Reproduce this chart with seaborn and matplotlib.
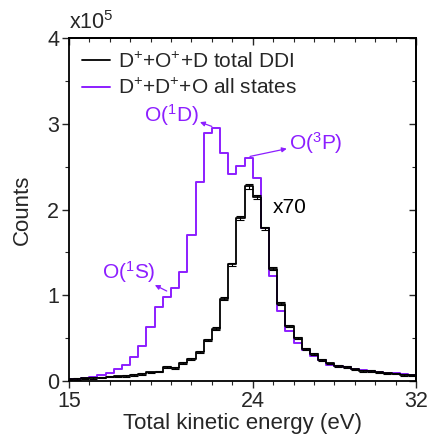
import matplotlib
matplotlib.use("Agg")
import matplotlib.pyplot as plt
from matplotlib.ticker import MultipleLocator, FixedLocator
import numpy as np
import seaborn as sns

# ---------------------------------------------------------------------------
# Data (counts in units of 1e5, 0.4 eV bins starting at 14.8 eV)
# ---------------------------------------------------------------------------

bin_width = 0.4
bin_start = 14.8

all_states = [
    0.02, 0.025, 0.04, 0.05, 0.07, 0.097, 0.136, 0.187, 0.276, 0.41,
    0.63, 0.86, 0.98, 1.08, 1.275, 1.70, 2.32, 2.89, 2.95, 2.66,
    2.42, 2.51, 2.60, 2.37, 1.78, 1.22, 0.82, 0.58, 0.44, 0.36,
    0.29, 0.24, 0.19, 0.175, 0.16, 0.14, 0.125, 0.118, 0.105, 0.095,
    0.09, 0.08, 0.075, 0.07,
]

total_ddi = [
    0.02, 0.025, 0.03, 0.035, 0.04, 0.05, 0.055, 0.06, 0.07, 0.08,
    0.10, 0.11, 0.16, 0.155, 0.214, 0.257, 0.34, 0.48, 0.61, 0.96,
    1.36, 1.90, 2.27, 2.15, 1.78, 1.31, 0.90, 0.64, 0.50, 0.37,
    0.32, 0.25, 0.206, 0.175, 0.16, 0.136, 0.12, 0.115, 0.10, 0.09,
    0.085, 0.07, 0.068, 0.065,
]

total_ddi_err = [
    0.008, 0.008, 0.008, 0.008, 0.008, 0.008, 0.008, 0.008, 0.01, 0.01,
    0.01, 0.01, 0.012, 0.012, 0.012, 0.012, 0.015, 0.015, 0.018, 0.02,
    0.022, 0.025, 0.028, 0.025, 0.022, 0.02, 0.018, 0.015, 0.015, 0.012,
    0.012, 0.012, 0.01, 0.01, 0.01, 0.01, 0.01, 0.01, 0.008, 0.008,
    0.008, 0.008, 0.008, 0.008,
]

centres = bin_start + bin_width / 2 + bin_width * np.arange(len(all_states))

x_major = [15, 24, 32]
y_major = [0, 1, 2, 3, 4]

PURPLE = "#8C1EFF"

# ---------------------------------------------------------------------------
# Style
# ---------------------------------------------------------------------------

sns.set_style("ticks")
plt.rcParams["font.family"] = ["Liberation Sans", "DejaVu Sans"]
plt.rcParams["mathtext.fontset"] = "custom"
plt.rcParams["mathtext.rm"] = "Liberation Sans"
plt.rcParams["mathtext.default"] = "regular"

fig = plt.figure(figsize=(4.28, 4.38), dpi=100)
ax = fig.add_axes([0.161, 0.130, 0.811, 0.783])

sns.lineplot(x=centres, y=all_states, drawstyle="steps-mid", color=PURPLE,
             lw=1.4, ax=ax, label="D$^{+}$+D$^{+}$+O all states")
sns.lineplot(x=centres, y=total_ddi, drawstyle="steps-mid", color="black",
             lw=1.3, ax=ax, label="D$^{+}$+O$^{+}$+D total DDI")
ax.errorbar(centres, total_ddi, yerr=total_ddi_err, fmt="none",
            ecolor="black", elinewidth=0.8, capsize=2.8, capthick=0.8)

ax.set_xlim(15, 32)
ax.set_ylim(0, 4)

# ticks: out on bottom/left, in on top/right
ax.xaxis.set_major_locator(FixedLocator(x_major))
ax.xaxis.set_minor_locator(MultipleLocator(1))
ax.yaxis.set_major_locator(FixedLocator(y_major))
ax.yaxis.set_minor_locator(MultipleLocator(0.5))
ax.tick_params(which="major", direction="out", length=5, width=1,
               labelsize=15.5, pad=2)
ax.tick_params(which="minor", direction="out", length=3, width=0.8)

top = ax.secondary_xaxis("top")
top.xaxis.set_major_locator(FixedLocator(x_major))
top.xaxis.set_minor_locator(MultipleLocator(1))
top.tick_params(which="major", direction="in", length=5, width=1, labeltop=False)
top.tick_params(which="minor", direction="in", length=3, width=0.8)
right = ax.secondary_yaxis("right")
right.yaxis.set_major_locator(FixedLocator(y_major))
right.yaxis.set_minor_locator(MultipleLocator(0.5))
right.tick_params(which="major", direction="in", length=5, width=1, labelright=False)
right.tick_params(which="minor", direction="in", length=3, width=0.8)
for sp in list(ax.spines.values()) + [top.spines["top"], right.spines["right"]]:
    sp.set_linewidth(1.3)
    sp.set_color("black")

ax.set_xlabel("Total kinetic energy (eV)", fontsize=16, labelpad=1)
ax.set_ylabel("Counts", fontsize=16, labelpad=10)
ax.text(0.0, 1.012, "x10$^{5}$", transform=ax.transAxes, fontsize=15.5,
        ha="left", va="bottom")

# legend: black entry first
handles, labels = ax.get_legend_handles_labels()
ax.legend(handles[::-1], labels[::-1], loc="upper left", frameon=False,
          fontsize=15, handlelength=1.3, handletextpad=0.4,
          borderaxespad=0.25, labelspacing=0.3, bbox_to_anchor=(0.0, 1.0))

# peak labels
arrow = dict(arrowstyle="-|>", color=PURPLE, lw=0.9, mutation_scale=7,
             shrinkA=0, shrinkB=0)
ax.annotate("", xy=(21.42, 3.02), xytext=(22.0, 2.97), arrowprops=arrow)
ax.text(20.0, 3.10, "O($^{1}$D)", color=PURPLE, fontsize=15, ha="center", va="center")
ax.annotate("", xy=(25.67, 2.71), xytext=(23.87, 2.62), arrowprops=arrow)
ax.text(27.1, 2.78, "O($^{3}$P)", color=PURPLE, fontsize=15, ha="center", va="center")
ax.annotate("", xy=(19.21, 1.12), xytext=(19.79, 1.05), arrowprops=arrow)
ax.text(17.94, 1.27, "O($^{1}$S)", color=PURPLE, fontsize=15, ha="center", va="center")
ax.text(25.83, 2.02, "x70", color="black", fontsize=15, ha="center", va="center")

fig.savefig("out.png", dpi=100)
